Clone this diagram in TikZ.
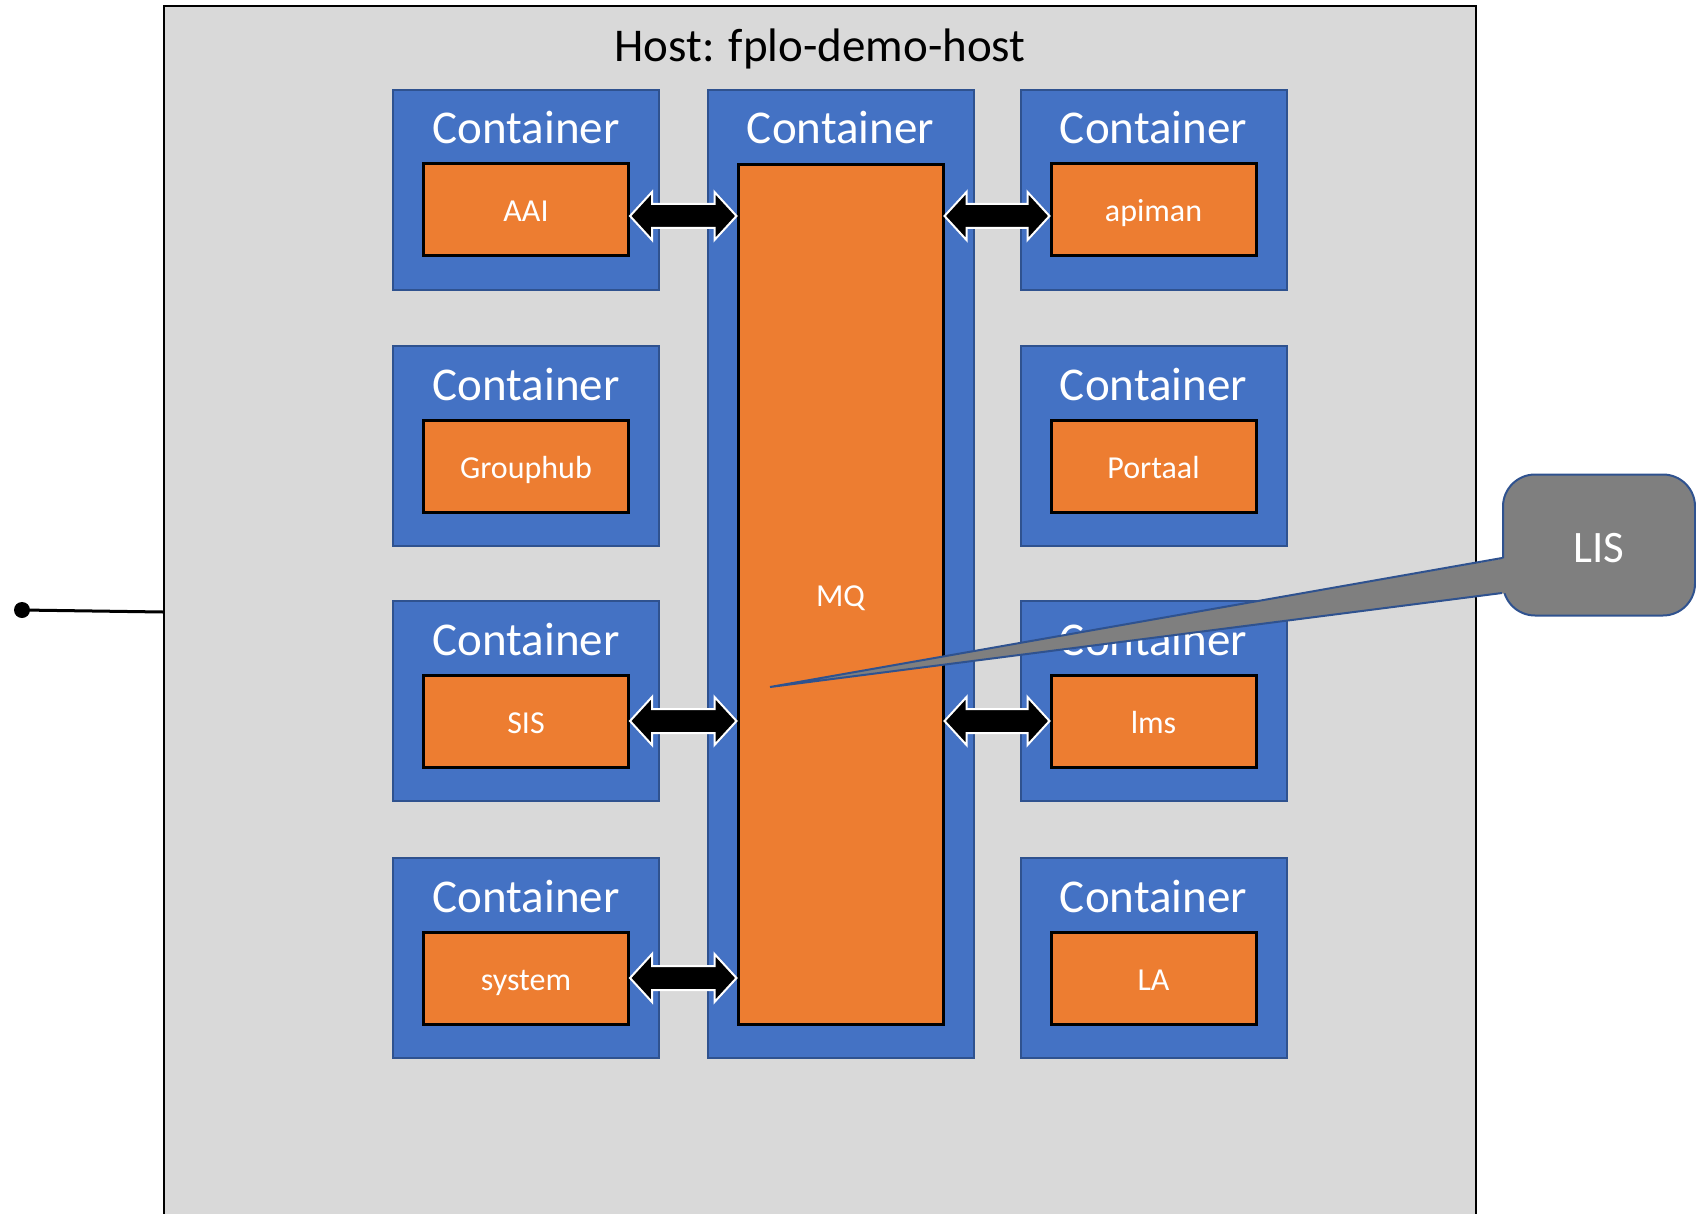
\documentclass[tikz,border=0pt]{standalone}
\usepackage{fontspec}
\setmainfont{Carlito}
\usepackage{tikz}
\usetikzlibrary{calc}
\usepackage{xcolor}
\definecolor{HostGray}{HTML}{D9D9D9}
\definecolor{BoxBlue}{HTML}{4472C4}
\definecolor{BoxBlueEdge}{HTML}{2F528F}
\definecolor{AppOrange}{HTML}{ED7D31}
\definecolor{CalloutGray}{HTML}{7F7F7F}

\tikzset{
  hostbox/.style={draw=black, line width=1pt, fill=HostGray, minimum width=656pt, minimum height=617pt, inner sep=0pt},
  hosttitle/.style={text=black, anchor=base, inner sep=0pt, font=\fontsize{23.5}{26}\selectfont},
  containerbox/.style={draw=BoxBlueEdge, line width=1pt, fill=BoxBlue, minimum width=133pt, minimum height=100pt, inner sep=0pt},
  containerlabel/.style={text=white, anchor=base, inner sep=0pt, font=\fontsize{23.5}{26}\selectfont},
  appbox/.style={draw=black, line width=1.5pt, fill=AppOrange, text=white, minimum width=102.5pt, minimum height=46pt, inner sep=0pt, text height=12pt, text depth=0pt, font=\fontsize{16}{18}\selectfont},
  blockarrow/.style={fill=black, draw=white, line width=1pt, line join=miter},
  hostlink/.style={draw=black, line width=1.5pt},
  lisbox/.style={draw=BoxBlueEdge, line width=1pt, fill=CalloutGray, rounded corners=16pt, text=white, minimum width=96pt, minimum height=70.5pt, inner sep=0pt, text height=17pt, text depth=0pt, font=\fontsize{22.5}{25}\selectfont},
}

\newcommand\dblarrow[2]{%
  \filldraw[blockarrow] (#1) -- ($(#1)+(22,-24)$) -- ($(#1)+(22,-12)$) -- ($(#2)+(-22,-12)$)
    -- ($(#2)+(-22,-24)$) -- (#2) -- ($(#2)+(-22,24)$) -- ($(#2)+(-22,12)$)
    -- ($(#1)+(22,12)$) -- ($(#1)+(22,24)$) -- cycle;}

\begin{document}
\begin{tikzpicture}[x=0.5pt, y=-0.5pt]
  \useasboundingbox (0,0) rectangle (1696,1214);

  % host
  \node[hostbox] (host) at (820,623) {};
  \node[hosttitle] (hosttitle) at (820,62) {Host: fplo-demo-host};

  % containers, left and right columns
  \foreach \name/\txt/\x/\y in {aai/AAI/526/190, grouphub/Grouphub/526/446, sis/SIS/526/701, system/system/526/958,
      apiman/apiman/1153.5/190, portaal/Portaal/1153.5/446, lms/lms/1153.5/701, la/LA/1153.5/958} {
    \node[containerbox] (c\name) at (\x,\y) {};
    \node[containerlabel] (l\name) at ($(c\name.north)+(0,55)$) {Container};
    \node[appbox] (\name) at ($(c\name.north)+(0,121)$) {\txt};
  }

  % message queue
  \node[containerbox, minimum height=484pt] (cmq) at (840.5,574) {};
  \node[containerlabel] (lmq) at ($(cmq.north)+(0,55)$) {Container};
  \node[appbox, minimum height=429.5pt] (mq) at (840.5,594.5) {MQ};

  % links to the queue
  \dblarrow{$(aai.east)+(0,6)$}{$(aai.east -| mq.west)+(0,6)$}
  \dblarrow{sis.east}{sis.east -| mq.west}
  \dblarrow{system.east}{system.east -| mq.west}
  \dblarrow{$(apiman.west -| mq.east)+(0,6)$}{$(apiman.west)+(0,6)$}
  \dblarrow{lms.west -| mq.east}{lms.west}

  % outside link
  \coordinate (hostport) at (22,610);
  \draw[hostlink] (hostport) -- ($(hostport -| host.west)+(0,2)$);
  \fill[black] (hostport) circle (8);

  % callout
  \node[lisbox] (lis) at (1599,545) {LIS};
  \coordinate (listip) at (770,687);
  \fill[CalloutGray] ($(lis.west)+(4,13)$) -- (listip) -- ($(lis.west)+(4,48)$) -- cycle;
  \draw[draw=BoxBlueEdge, line width=1pt] ($(lis.west)+(0,13)$) -- (listip) -- ($(lis.west)+(0,48)$);
\end{tikzpicture}
\end{document}
